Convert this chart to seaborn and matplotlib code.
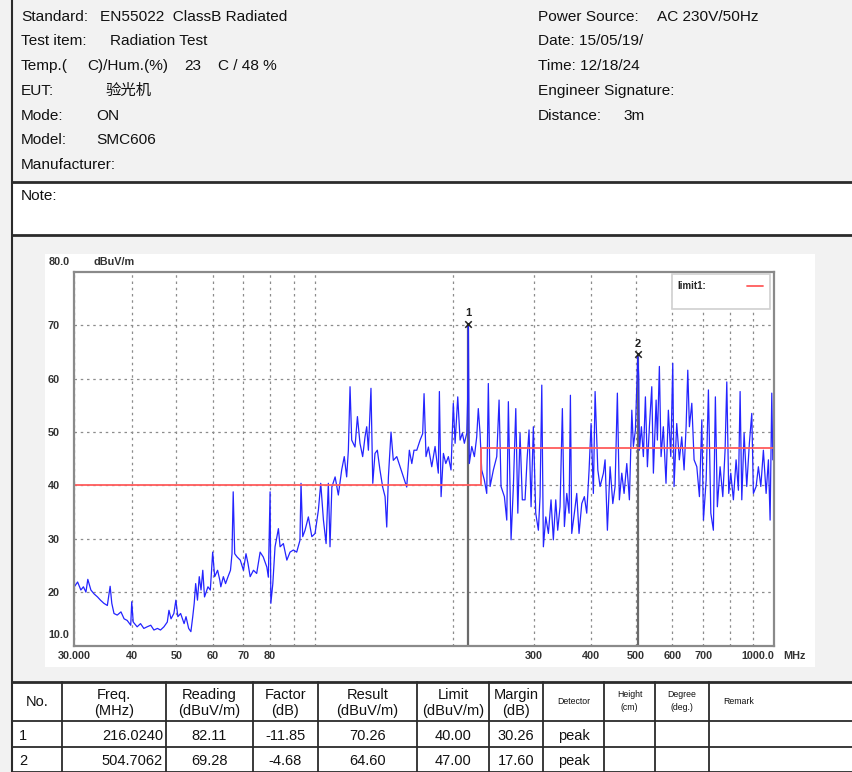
import matplotlib
matplotlib.use("Agg")
import matplotlib.pyplot as plt
import matplotlib.transforms as mtransforms
from matplotlib.patches import Rectangle
from matplotlib.ticker import NullLocator
import pandas as pd
import seaborn as sns

# ---- data -------------------------------------------------------------------
freq_mhz = [
    30.0, 30.5, 31.0, 31.4, 31.8, 32.1, 32.6, 33.1, 33.7, 34.2, 34.8, 35.4, 35.9, 36.2, 36.6, 37.2,
    37.9, 38.5, 39.1, 39.8, 40.0, 40.3, 41.1, 41.8, 42.5, 43.2, 44.0, 44.7, 45.5, 46.2, 47.0, 47.8,
    48.2, 48.7, 49.4, 49.9, 50.4, 51.1, 52.0, 52.5, 53.2, 53.8, 54.3, 54.7, 55.1, 55.6, 56.1, 56.6,
    57.1, 57.6, 58.6, 59.3, 60.0, 60.6, 61.5, 62.2, 62.5, 63.3, 64.0, 64.8, 65.6, 66.1, 66.5, 67.0,
    67.8, 68.9, 70.0, 70.9, 71.6, 72.4, 73.6, 74.8, 76.1, 77.3, 78.7, 79.3, 80.0, 80.3, 81.1, 82.0,
    83.4, 84.1, 85.5, 87.0, 88.4, 89.9, 91.4, 92.9, 93.4, 94.2, 95.3, 96.9, 98.6, 100.2, 101.9, 103.1,
    104.5, 105.9, 107.1, 108.0, 109.0, 110.8, 112.6, 114.5, 116.0, 117.4, 118.4, 119.4, 120.4, 122.4, 123.9, 125.5,
    127.2, 128.7, 129.8, 130.9, 132.6, 133.8, 135.3, 136.9, 138.7, 140.6, 142.3, 143.5, 144.7, 146.6, 148.3, 150.9,
    153.4, 156.0, 158.6, 160.7, 162.7, 164.5, 166.8, 169.6, 171.8, 173.0, 174.7, 176.8, 179.8, 182.8, 185.8, 186.8,
    188.4, 190.6, 192.9, 195.4, 198.0, 200.3, 202.1, 204.8, 207.2, 209.6, 211.7, 214.3, 215.3, 216.0, 217.0, 219.7,
    222.6, 225.2, 227.0, 229.0, 230.9, 234.0, 236.8, 238.7, 240.8, 244.8, 249.0, 251.9, 254.4, 258.7, 261.8, 263.9,
    267.5, 270.6, 273.9, 276.7, 279.8, 283.0, 286.9, 289.8, 292.7, 295.7, 299.1, 302.7, 306.7, 309.3, 312.0, 314.5,
    318.3, 322.5, 326.8, 330.6, 334.6, 337.9, 341.9, 345.9, 349.4, 353.6, 357.7, 360.1, 362.5, 367.3, 371.7, 376.0,
    381.2, 386.2, 390.8, 395.4, 399.4, 404.0, 407.5, 413.1, 417.8, 424.8, 428.4, 433.4, 439.3, 445.3, 450.4, 455.6,
    460.2, 465.8, 471.2, 477.6, 483.9, 489.8, 493.7, 498.7, 504.7, 507.0, 508.8, 513.9, 519.0, 524.3, 529.6, 534.9,
    541.3, 545.7, 553.2, 556.7, 562.3, 567.1, 573.6, 581.3, 588.2, 595.4, 601.3, 605.2, 613.4, 621.5, 629.0, 636.4,
    642.9, 648.3, 653.6, 661.5, 669.1, 678.3, 687.2, 695.5, 701.2, 710.8, 718.9, 727.6, 737.0, 744.4, 751.8, 762.2,
    772.6, 781.5, 788.2, 796.0, 804.1, 814.7, 825.8, 835.4, 842.6, 849.7, 859.6, 871.1, 882.6, 893.3, 900.6, 913.0,
    923.4, 934.7, 946.8, 959.8, 970.9, 979.2, 987.5, 992.5, 1000.0,
]
level_dbuv = [
    21.0, 21.9, 20.4, 21.0, 20.0, 22.4, 20.4, 19.7, 19.1, 18.5, 17.9, 17.5, 21.1, 17.9, 16.0, 15.7,
    16.3, 15.0, 14.7, 13.8, 18.2, 14.4, 13.5, 14.1, 13.2, 13.5, 13.8, 12.9, 13.2, 12.9, 13.5, 14.4,
    16.6, 15.0, 16.0, 18.5, 15.4, 16.0, 14.1, 15.4, 13.2, 12.6, 15.4, 17.9, 21.6, 18.5, 22.9, 20.4,
    24.1, 19.1, 21.0, 20.4, 27.5, 22.9, 24.1, 22.2, 21.0, 22.9, 21.6, 22.9, 24.1, 27.2, 38.8, 27.2,
    26.6, 26.0, 24.1, 27.2, 25.4, 22.9, 24.1, 23.5, 27.5, 26.6, 24.7, 22.8, 38.8, 17.9, 21.6, 28.5,
    31.9, 28.5, 29.1, 26.0, 27.5, 27.9, 27.5, 29.7, 40.4, 30.4, 31.6, 34.1, 30.4, 31.0, 35.4, 40.4,
    33.5, 29.1, 40.4, 28.5, 39.7, 41.6, 38.2, 42.9, 45.4, 41.6, 46.6, 58.5, 48.5, 47.2, 52.9, 47.9,
    45.4, 49.1, 51.0, 46.6, 58.2, 40.4, 46.0, 46.6, 42.9, 39.7, 37.9, 32.2, 41.6, 50.0, 44.7, 45.4,
    43.5, 41.6, 39.7, 46.6, 44.1, 46.6, 46.6, 48.5, 49.7, 57.2, 45.4, 47.2, 43.5, 47.3, 42.3, 57.6,
    37.9, 46.0, 44.1, 45.4, 42.9, 55.4, 47.9, 56.6, 48.5, 49.8, 47.9, 49.8, 56.9, 70.26, 44.1, 47.3,
    45.4, 49.1, 54.4, 49.8, 42.9, 41.0, 38.5, 59.1, 39.8, 42.9, 45.4, 56.0, 39.8, 37.9, 33.5, 55.7,
    29.8, 39.8, 54.4, 34.8, 49.8, 37.3, 37.3, 44.8, 50.4, 36.0, 51.0, 34.8, 31.6, 37.9, 58.8, 28.5,
    34.1, 31.0, 37.3, 29.8, 37.3, 31.6, 36.0, 54.4, 32.3, 38.5, 34.8, 56.9, 31.0, 34.8, 38.5, 31.0,
    36.6, 37.9, 34.8, 42.9, 51.6, 38.5, 57.6, 42.9, 39.8, 42.3, 44.8, 31.6, 43.5, 36.6, 39.8, 57.3,
    37.3, 42.3, 38.5, 44.1, 37.3, 54.1, 47.3, 50.4, 64.6, 60.4, 46.6, 51.0, 45.4, 56.6, 43.5, 51.0,
    58.5, 42.3, 56.0, 48.5, 62.3, 45.4, 51.0, 40.4, 54.1, 45.4, 62.9, 39.8, 51.6, 44.8, 49.1, 42.9,
    51.0, 61.6, 51.0, 55.4, 44.8, 43.5, 37.9, 52.3, 33.5, 41.0, 57.9, 34.8, 31.6, 56.6, 36.0, 43.5,
    37.9, 46.6, 59.4, 38.5, 42.3, 37.3, 44.8, 39.1, 57.6, 37.3, 49.8, 39.8, 47.9, 53.5, 38.5, 39.8,
    43.5, 39.8, 46.6, 38.5, 44.8, 33.5, 57.3, 44.8, 46.0,
]
assert len(freq_mhz) == len(level_dbuv)

limit_freq = [30, 230, 230, 1000]
limit_level = [40, 40, 47, 47]

marker_no = ["1", "2"]
marker_freq = [216.0240, 504.7062]
marker_reading = [82.11, 69.28]
marker_factor = [-11.85, -4.68]
marker_result = [70.26, 64.60]
marker_limit = [40.00, 47.00]
marker_margin = [30.26, 17.60]
marker_detector = ["peak", "peak"]

grid_freqs = [30, 40, 50, 60, 70, 80, 90, 100, 200, 300, 400, 500, 600, 700, 800, 900, 1000]
grid_labels = ["30.000", "40", "50", "60", "70", "80", "", "", "", "300", "400", "500",
               "600", "700", "", "", "1000.0"]
y_grid = [20, 30, 40, 50, 60, 70]

header_left = [("Standard:", "EN55022  ClassB Radiated", 100),
               ("Test item:", "Radiation Test", 110),
               ("Temp.(", "", 0),
               ("EUT:", "验光机", 105),
               ("Mode:", "ON", 96),
               ("Model:", "SMC606", 96),
               ("Manufacturer:", "", 0)]
header_right = [("Power Source:", "AC 230V/50Hz", 657),
                ("Date: 15/05/19/", "", 0),
                ("Time: 12/18/24", "", 0),
                ("Engineer Signature:", "", 0),
                ("Distance:", "3m", 623)]

table_headers = ["No.", "Freq.\n(MHz)", "Reading\n(dBuV/m)", "Factor\n(dB)", "Result\n(dBuV/m)",
                 "Limit\n(dBuV/m)", "Margin\n(dB)", "Detector", "Height\n(cm)", "Degree\n(deg.)",
                 "Remark"]

# ---- figure -----------------------------------------------------------------
sns.set_theme(style="white")
plt.rcParams['font.family'] = ['Liberation Sans', 'Noto Sans CJK SC', 'DejaVu Sans']

W, H = 853, 772
fig = plt.figure(figsize=(W / 100, H / 100), dpi=100)
fig.patch.set_facecolor('#f2f2f2')

# page layer in pixel coordinates
bg = fig.add_axes([0, 0, 1, 1])
bg.set_xlim(0, W)
bg.set_ylim(H, 0)
bg.axis('off')

line_c = '#2b2b2b'
bg.add_patch(Rectangle((12, 182), W - 12, 53, fc='white', ec='none'))
bg.add_patch(Rectangle((45, 254), 770, 413, fc='white', ec='none'))
bg.add_patch(Rectangle((12, 682), W - 12, 90, fc='white', ec='none'))
bg.plot([12, 12], [0, H], color=line_c, lw=1.5)
bg.plot([12, W], [181.5, 181.5], color=line_c, lw=2)
bg.plot([12, W], [235, 235], color=line_c, lw=2)

txt = dict(fontsize=11.1, color='#111111', va='baseline')
for i, (lab, val, vx) in enumerate(header_left):
    yb = 20.7 + 24.7 * i
    bg.text(21, yb, lab, **txt)
    if val:
        bg.text(vx, yb, val, **txt)
# temperature line has gaps where the degree signs were lost
bg.text(87, 20.7 + 24.7 * 2, "C)/Hum.(%)", **txt)
bg.text(184, 20.7 + 24.7 * 2, "23", **txt)
bg.text(218, 20.7 + 24.7 * 2, "C / 48 %", **txt)
for i, (lab, val, vx) in enumerate(header_right):
    yb = 20.7 + 24.7 * i
    bg.text(538, yb, lab, **txt)
    if val:
        bg.text(vx, yb, val, **txt)
bg.text(21, 200, "Note:", **txt)

# ---- table ------------------------------------------------------------------
col_x = [12, 62, 166, 253, 318, 417, 489, 543, 604, 655, 709, W]
row_y = [682, 721, 746.5, 771.5]
for y in row_y:
    bg.plot([12, W], [y, y], color=line_c, lw=2 if y == 682 else 1.3)
for x in col_x:
    bg.plot([x, x], [682, 771.5], color=line_c, lw=1.3)

for j, head in enumerate(table_headers):
    cx = (col_x[j] + col_x[j + 1]) / 2
    small = head.split("\n")[0] in ("Detector", "Height", "Degree", "Remark")
    fs = 6.3 if small else 10.5
    if head == "Remark":
        bg.text(723, 702, head, fontsize=fs, va='center', ha='left', color='#111')
    elif "\n" in head:
        top, bot = head.split("\n")
        if small:
            bg.text(cx, 697, top, fontsize=fs, ha='center', va='baseline', color='#111')
            bg.text(cx, 710, bot, fontsize=fs, ha='center', va='baseline', color='#111')
        else:
            bg.text(cx, 699, top, fontsize=fs, ha='center', va='baseline', color='#111')
            bg.text(cx, 715, bot, fontsize=fs, ha='center', va='baseline', color='#111')
    else:
        bg.text(cx, 702, head, fontsize=fs, ha='center', va='center', color='#111')

for i in range(len(marker_no)):
    yb = 740 + 25 * i
    cells = [f"{marker_reading[i]:.2f}", f"{marker_factor[i]:.2f}", f"{marker_result[i]:.2f}",
             f"{marker_limit[i]:.2f}", f"{marker_margin[i]:.2f}", marker_detector[i]]
    bg.text(19, yb, marker_no[i], fontsize=10.5, va='baseline', color='#111')
    bg.text(163, yb, f"{marker_freq[i]:.4f}", fontsize=10.5, ha='right', va='baseline', color='#111')
    for k, c in enumerate(cells):
        cx = (col_x[k + 2] + col_x[k + 3]) / 2
        bg.text(cx, yb, c, fontsize=10.5, ha='center', va='baseline', color='#111')

# ---- spectrum plot ----------------------------------------------------------
ax = fig.add_axes([74.3 / W, 1 - 645.5 / H, 700 / W, 373.5 / H])
ax.set_facecolor('white')

trace = pd.DataFrame({'freq': freq_mhz, 'level': level_dbuv})
limit = pd.DataFrame({'freq': limit_freq, 'level': limit_level})

ax.vlines(marker_freq, 10, marker_result, color='#6a6a6a', lw=1.6, zorder=1.5)
sns.lineplot(data=limit, x='freq', y='level', ax=ax, color='#ff5c5c', lw=1.3,
             estimator=None, sort=False, label='limit1:', zorder=2.5)
sns.lineplot(data=trace, x='freq', y='level', ax=ax, color='#2424ff', lw=0.9,
             estimator=None, sort=False, zorder=2, legend=False)
sns.scatterplot(x=marker_freq, y=marker_result, ax=ax, marker='x', color='#222222',
                s=22, linewidth=1.1, zorder=4, legend=False)
for n, fx, fy in zip(marker_no, marker_freq, marker_result):
    ax.annotate(n, (fx, fy), xytext=(0, 4), textcoords='offset points', ha='center',
                va='bottom', fontsize=8, color='#222222', fontweight='bold')

ax.set_xscale('log')
ax.set_xlim(30, 1000)
ax.set_ylim(10, 80)
ax.xaxis.set_minor_locator(NullLocator())
ax.set_xticks(grid_freqs)
ax.set_xticklabels(grid_labels)
ax.set_yticks(y_grid)
ax.set_yticklabels([str(v) for v in y_grid])
ax.set_xlabel('')
ax.set_ylabel('')
ax.grid(True, color='#8c8c8c', lw=0.9, linestyle=(0, (2, 3)))
ax.tick_params(axis='both', length=0, labelsize=7.8, colors='#333333')
ax.tick_params(axis='x', pad=4)
ax.tick_params(axis='y', pad=19)
for lab in ax.get_xticklabels() + ax.get_yticklabels():
    lab.set_fontweight('bold')
for lab in ax.get_yticklabels():
    lab.set_horizontalalignment('left')
ax.get_xticklabels()[-1].set_horizontalalignment('right')
for s in ax.spines.values():
    s.set_color('#8a8a8a')
    s.set_linewidth(1.6)

blend = mtransforms.blended_transform_factory(fig.transFigure, ax.transData)
off = dict(fontsize=7.8, fontweight='bold', color='#333333', ha='left', va='center')
ax.text(48.3 / W, 80, "80.0", transform=blend + mtransforms.ScaledTranslation(0, 0.10, fig.dpi_scale_trans), **off)
ax.text(48.3 / W, 10, "10.0", transform=blend + mtransforms.ScaledTranslation(0, 0.11, fig.dpi_scale_trans), **off)
ax.text(94 / W, 80, "dBuV/m", transform=blend + mtransforms.ScaledTranslation(0, 0.10, fig.dpi_scale_trans), **off)
ax.text(1.013, -0.028, "MHz", transform=ax.transAxes, fontsize=7.8, fontweight='bold',
        color='#333333', ha='left', va='center')

# legend box in the top right corner
ax.add_patch(Rectangle((672, 274), 98, 35, transform=bg.transData, fc='white',
                       ec='#d0d0d0', lw=1.2, zorder=5, clip_on=False))
leg = ax.legend(loc='upper right', bbox_to_anchor=(770 / W, 1 - 274 / H),
                bbox_transform=fig.transFigure, frameon=False, markerfirst=False,
                handlelength=1.6, handletextpad=4.2, borderpad=0.25,
                prop={'size': 7, 'weight': 'bold'})
leg.set_zorder(6)

fig.savefig('out.png', dpi=100, facecolor=fig.get_facecolor())
